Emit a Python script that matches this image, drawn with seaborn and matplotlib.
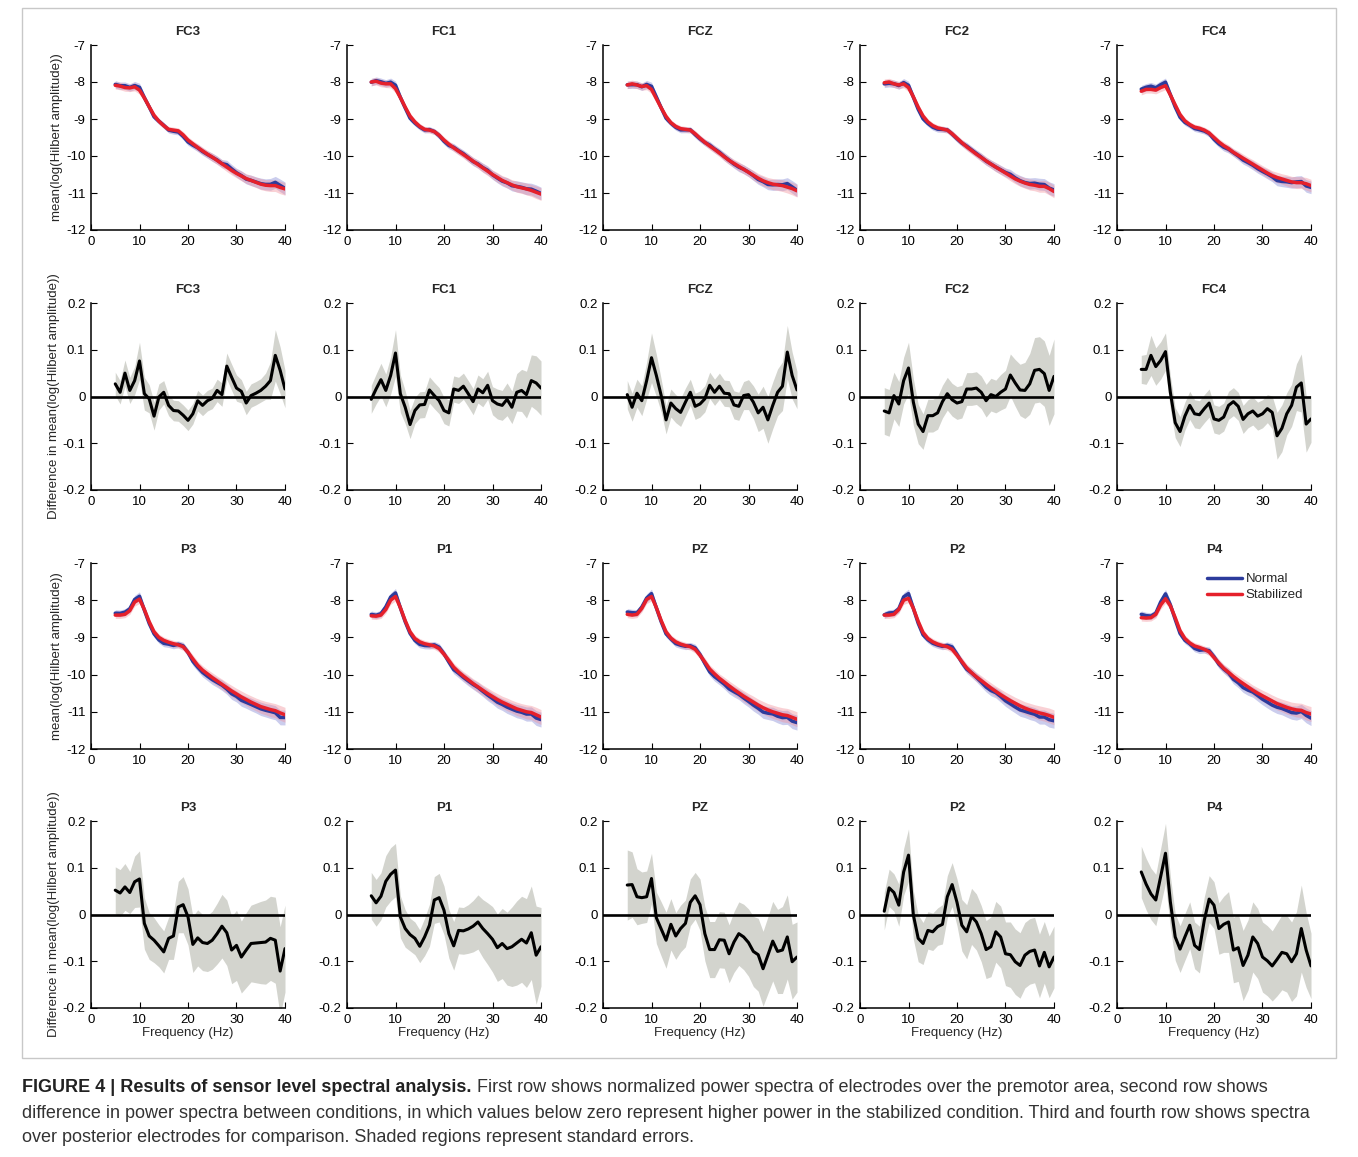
import numpy as np
import pandas as pd
import matplotlib
matplotlib.use("Agg")
import matplotlib.pyplot as plt
import seaborn as sns
from matplotlib.lines import Line2D
from matplotlib.patches import Rectangle

# frequencies (Hz)
freqs = list(range(5, 41))

front = ["FC3", "FC1", "FCZ", "FC2", "FC4"]
back = ["P3", "P1", "PZ", "P2", "P4"]

# stabilized condition, mean(log(Hilbert amplitude))
stab = {
    "FC3": [-8.09, -8.11, -8.15, -8.16, -8.13, -8.22, -8.43, -8.67, -8.90, -9.06, -9.18, -9.28, -9.30, -9.32, -9.43, -9.57, -9.67, -9.77, -9.86, -9.95, -10.03, -10.12, -10.21, -10.30, -10.39, -10.47, -10.54, -10.61, -10.66, -10.71, -10.76, -10.79, -10.80, -10.80, -10.85, -10.89],
    "FC1": [-8.00, -7.98, -8.03, -8.05, -8.05, -8.18, -8.42, -8.68, -8.92, -9.08, -9.20, -9.28, -9.30, -9.34, -9.44, -9.57, -9.68, -9.78, -9.87, -9.96, -10.05, -10.14, -10.23, -10.32, -10.41, -10.50, -10.58, -10.66, -10.72, -10.78, -10.83, -10.86, -10.89, -10.93, -10.98, -11.03],
    "FCZ": [-8.08, -8.05, -8.08, -8.12, -8.10, -8.20, -8.45, -8.70, -8.93, -9.10, -9.20, -9.26, -9.28, -9.30, -9.40, -9.52, -9.63, -9.73, -9.82, -9.92, -10.02, -10.12, -10.20, -10.28, -10.36, -10.44, -10.52, -10.60, -10.67, -10.72, -10.76, -10.78, -10.80, -10.84, -10.88, -10.94],
    "FC2": [-8.02, -8.00, -8.05, -8.08, -8.05, -8.15, -8.40, -8.68, -8.92, -9.08, -9.18, -9.24, -9.27, -9.30, -9.40, -9.52, -9.64, -9.75, -9.85, -9.95, -10.04, -10.13, -10.22, -10.30, -10.38, -10.46, -10.54, -10.62, -10.68, -10.73, -10.77, -10.79, -10.82, -10.82, -10.88, -10.96],
    "FC4": [-8.25, -8.20, -8.20, -8.22, -8.15, -8.10, -8.35, -8.62, -8.88, -9.05, -9.15, -9.22, -9.25, -9.30, -9.38, -9.50, -9.62, -9.72, -9.80, -9.90, -9.98, -10.06, -10.14, -10.22, -10.30, -10.38, -10.46, -10.53, -10.58, -10.62, -10.66, -10.70, -10.72, -10.72, -10.75, -10.80],
    "P3": [-8.40, -8.40, -8.38, -8.28, -8.05, -7.97, -8.25, -8.58, -8.85, -9.00, -9.08, -9.13, -9.17, -9.20, -9.25, -9.40, -9.58, -9.75, -9.88, -9.98, -10.08, -10.17, -10.26, -10.35, -10.44, -10.52, -10.60, -10.67, -10.74, -10.80, -10.86, -10.90, -10.94, -10.97, -11.03, -11.08],
    "P1": [-8.42, -8.43, -8.40, -8.25, -8.00, -7.90, -8.20, -8.55, -8.85, -9.03, -9.12, -9.17, -9.20, -9.23, -9.30, -9.45, -9.62, -9.80, -9.93, -10.04, -10.14, -10.24, -10.33, -10.42, -10.51, -10.59, -10.67, -10.74, -10.80, -10.86, -10.92, -10.96, -11.00, -11.02, -11.08, -11.14],
    "PZ": [-8.38, -8.40, -8.38, -8.22, -7.98, -7.90, -8.20, -8.55, -8.85, -9.02, -9.12, -9.18, -9.22, -9.25, -9.32, -9.48, -9.66, -9.85, -9.98, -10.10, -10.20, -10.30, -10.40, -10.49, -10.58, -10.66, -10.74, -10.82, -10.89, -10.95, -11.00, -11.04, -11.08, -11.10, -11.15, -11.20],
    "P2": [-8.40, -8.40, -8.38, -8.25, -8.00, -7.95, -8.22, -8.57, -8.87, -9.03, -9.12, -9.18, -9.22, -9.25, -9.32, -9.48, -9.65, -9.82, -9.95, -10.06, -10.16, -10.26, -10.36, -10.45, -10.54, -10.62, -10.70, -10.77, -10.84, -10.90, -10.95, -10.99, -11.03, -11.06, -11.10, -11.15],
    "P4": [-8.47, -8.48, -8.47, -8.38, -8.13, -7.96, -8.15, -8.47, -8.82, -9.03, -9.15, -9.23, -9.27, -9.32, -9.39, -9.54, -9.69, -9.83, -9.94, -10.05, -10.15, -10.24, -10.33, -10.42, -10.50, -10.57, -10.64, -10.71, -10.78, -10.83, -10.88, -10.92, -10.95, -10.96, -11.02, -11.06],
}

# normal minus stabilized
diff = {
    "FC3": [0.027, 0.009, 0.050, 0.013, 0.034, 0.076, 0.006, -0.005, -0.042, -0.001, 0.009, -0.019, -0.030, -0.031, -0.040, -0.051, -0.037, -0.009, -0.019, -0.009, -0.004, 0.013, 0.004, 0.065, 0.041, 0.018, 0.011, -0.014, 0.002, 0.007, 0.013, 0.022, 0.034, 0.088, 0.056, 0.016],
    "FC1": [-0.006, 0.016, 0.036, 0.013, 0.045, 0.093, 0.006, -0.023, -0.060, -0.030, -0.018, -0.017, 0.014, 0.002, -0.009, -0.030, -0.035, 0.016, 0.013, 0.022, 0.006, -0.011, 0.016, 0.008, 0.024, -0.009, -0.016, -0.019, -0.006, -0.023, 0.009, 0.013, 0.004, 0.034, 0.029, 0.018],
    "FCZ": [0.004, -0.023, 0.007, -0.009, 0.034, 0.083, 0.045, 0.002, -0.050, -0.014, -0.026, -0.034, -0.012, 0.009, -0.021, -0.016, -0.005, 0.024, 0.009, 0.022, 0.007, 0.006, -0.018, -0.021, 0.002, 0.004, -0.012, -0.035, -0.023, -0.050, -0.019, 0.009, 0.022, 0.095, 0.045, 0.014],
    "FC2": [-0.031, -0.035, 0.002, -0.016, 0.034, 0.061, -0.012, -0.059, -0.075, -0.041, -0.041, -0.035, -0.011, 0.006, -0.007, -0.014, -0.011, 0.016, 0.016, 0.018, 0.009, -0.009, 0.004, 0.000, 0.009, 0.016, 0.046, 0.029, 0.014, 0.013, 0.027, 0.056, 0.058, 0.049, 0.013, 0.043],
    "FC4": [0.058, 0.058, 0.088, 0.064, 0.077, 0.096, 0.009, -0.056, -0.075, -0.042, -0.019, -0.037, -0.039, -0.026, -0.014, -0.048, -0.051, -0.044, -0.019, -0.011, -0.021, -0.049, -0.037, -0.031, -0.042, -0.037, -0.026, -0.034, -0.084, -0.068, -0.037, -0.019, 0.020, 0.029, -0.059, -0.048],
    "P3": [0.052, 0.046, 0.059, 0.047, 0.070, 0.076, -0.019, -0.046, -0.055, -0.067, -0.080, -0.051, -0.046, 0.016, 0.021, -0.005, -0.064, -0.050, -0.060, -0.062, -0.055, -0.041, -0.025, -0.039, -0.076, -0.066, -0.091, -0.076, -0.062, -0.061, -0.060, -0.059, -0.051, -0.055, -0.121, -0.073],
    "P1": [0.040, 0.025, 0.039, 0.071, 0.086, 0.095, -0.005, -0.030, -0.043, -0.051, -0.068, -0.048, -0.023, 0.031, 0.036, 0.009, -0.041, -0.067, -0.034, -0.035, -0.031, -0.025, -0.016, -0.030, -0.041, -0.053, -0.071, -0.062, -0.073, -0.069, -0.061, -0.053, -0.061, -0.039, -0.087, -0.069],
    "PZ": [0.063, 0.064, 0.038, 0.036, 0.038, 0.077, -0.007, -0.031, -0.055, -0.021, -0.046, -0.030, -0.019, 0.026, 0.040, 0.021, -0.041, -0.075, -0.075, -0.054, -0.055, -0.084, -0.059, -0.041, -0.048, -0.060, -0.079, -0.086, -0.116, -0.087, -0.057, -0.079, -0.076, -0.048, -0.101, -0.091],
    "P2": [0.007, 0.057, 0.047, 0.020, 0.091, 0.127, -0.001, -0.051, -0.062, -0.034, -0.037, -0.026, -0.021, 0.038, 0.064, 0.026, -0.023, -0.037, -0.004, -0.016, -0.041, -0.075, -0.069, -0.037, -0.048, -0.084, -0.086, -0.101, -0.109, -0.087, -0.079, -0.076, -0.110, -0.081, -0.112, -0.091],
    "P4": [0.091, 0.065, 0.044, 0.031, 0.081, 0.131, 0.027, -0.048, -0.074, -0.048, -0.023, -0.066, -0.075, -0.012, 0.033, 0.020, -0.030, -0.021, -0.016, -0.076, -0.071, -0.109, -0.087, -0.048, -0.062, -0.091, -0.099, -0.110, -0.096, -0.081, -0.084, -0.101, -0.084, -0.030, -0.076, -0.110],
}

# standard errors of the difference
diff_se = {
    "FC3": [0.025, 0.025, 0.028, 0.028, 0.030, 0.040, 0.035, 0.030, 0.030, 0.028, 0.025, 0.022, 0.022, 0.022, 0.022, 0.022, 0.022, 0.022, 0.022, 0.022, 0.022, 0.024, 0.025, 0.028, 0.028, 0.028, 0.025, 0.025, 0.025, 0.025, 0.025, 0.028, 0.040, 0.055, 0.050, 0.040],
    "FC1": [0.030, 0.032, 0.035, 0.035, 0.040, 0.050, 0.040, 0.035, 0.030, 0.028, 0.028, 0.028, 0.028, 0.028, 0.028, 0.028, 0.028, 0.028, 0.028, 0.028, 0.028, 0.028, 0.030, 0.030, 0.030, 0.030, 0.032, 0.032, 0.035, 0.035, 0.040, 0.045, 0.050, 0.055, 0.058, 0.058],
    "FCZ": [0.030, 0.030, 0.030, 0.032, 0.040, 0.053, 0.045, 0.035, 0.030, 0.030, 0.030, 0.030, 0.030, 0.028, 0.028, 0.028, 0.028, 0.028, 0.028, 0.028, 0.028, 0.028, 0.030, 0.030, 0.030, 0.032, 0.035, 0.040, 0.045, 0.050, 0.050, 0.050, 0.052, 0.057, 0.050, 0.040],
    "FC2": [0.050, 0.050, 0.050, 0.048, 0.050, 0.055, 0.050, 0.042, 0.038, 0.035, 0.035, 0.035, 0.035, 0.035, 0.035, 0.035, 0.035, 0.035, 0.035, 0.035, 0.035, 0.035, 0.035, 0.035, 0.038, 0.040, 0.045, 0.050, 0.055, 0.060, 0.065, 0.070, 0.070, 0.070, 0.075, 0.080],
    "FC4": [0.030, 0.032, 0.043, 0.040, 0.040, 0.040, 0.035, 0.032, 0.032, 0.030, 0.030, 0.030, 0.030, 0.030, 0.030, 0.030, 0.030, 0.030, 0.030, 0.030, 0.030, 0.030, 0.030, 0.030, 0.030, 0.030, 0.030, 0.035, 0.050, 0.050, 0.045, 0.045, 0.050, 0.062, 0.060, 0.050],
    "P3": [0.050, 0.050, 0.050, 0.045, 0.055, 0.060, 0.055, 0.050, 0.048, 0.045, 0.045, 0.045, 0.050, 0.055, 0.060, 0.060, 0.060, 0.060, 0.060, 0.060, 0.062, 0.065, 0.068, 0.070, 0.072, 0.075, 0.077, 0.080, 0.082, 0.085, 0.088, 0.090, 0.090, 0.092, 0.095, 0.093],
    "P1": [0.050, 0.050, 0.050, 0.055, 0.057, 0.057, 0.045, 0.040, 0.035, 0.035, 0.035, 0.040, 0.045, 0.050, 0.052, 0.052, 0.052, 0.052, 0.050, 0.050, 0.052, 0.055, 0.058, 0.062, 0.066, 0.070, 0.072, 0.075, 0.078, 0.085, 0.090, 0.092, 0.095, 0.100, 0.105, 0.084],
    "PZ": [0.075, 0.070, 0.060, 0.055, 0.055, 0.054, 0.055, 0.058, 0.060, 0.055, 0.050, 0.050, 0.050, 0.050, 0.050, 0.055, 0.058, 0.060, 0.060, 0.060, 0.060, 0.062, 0.065, 0.068, 0.070, 0.072, 0.075, 0.078, 0.080, 0.082, 0.085, 0.090, 0.093, 0.090, 0.080, 0.075],
    "P2": [0.040, 0.040, 0.040, 0.045, 0.050, 0.056, 0.052, 0.050, 0.045, 0.040, 0.040, 0.040, 0.042, 0.045, 0.047, 0.050, 0.055, 0.058, 0.060, 0.060, 0.060, 0.062, 0.064, 0.065, 0.066, 0.068, 0.070, 0.070, 0.070, 0.070, 0.070, 0.070, 0.068, 0.066, 0.066, 0.066],
    "P4": [0.055, 0.055, 0.055, 0.055, 0.060, 0.064, 0.055, 0.050, 0.050, 0.050, 0.050, 0.050, 0.050, 0.050, 0.050, 0.050, 0.055, 0.060, 0.065, 0.070, 0.072, 0.075, 0.075, 0.075, 0.075, 0.075, 0.075, 0.075, 0.078, 0.080, 0.082, 0.085, 0.090, 0.093, 0.080, 0.070],
}

# standard errors of the spectra
spec_se_front = [0.10, 0.10, 0.10, 0.10, 0.11, 0.11, 0.10, 0.09, 0.08, 0.08, 0.08, 0.08, 0.08, 0.08, 0.09, 0.09, 0.09, 0.10, 0.10, 0.10, 0.11, 0.11, 0.11, 0.12, 0.12, 0.12, 0.13, 0.13, 0.14, 0.14, 0.15, 0.15, 0.16, 0.16, 0.17, 0.17]
spec_se_back = [0.09, 0.09, 0.09, 0.10, 0.11, 0.12, 0.11, 0.10, 0.09, 0.09, 0.09, 0.09, 0.09, 0.09, 0.10, 0.10, 0.11, 0.11, 0.12, 0.12, 0.13, 0.13, 0.14, 0.14, 0.15, 0.15, 0.16, 0.16, 0.17, 0.17, 0.18, 0.18, 0.19, 0.19, 0.20, 0.20]

spec_yticks = [-12, -11, -10, -9, -8, -7]
diff_yticks = [-0.2, -0.1, 0, 0.1, 0.2]
diff_yticklabels = ["-0.2", "-0.1", "0", "0.1", "0.2"]
xticks = [0, 10, 20, 30, 40]

sns.set_style("ticks")
plt.rcParams["font.family"] = ["Liberation Sans", "DejaVu Sans"]
plt.rcParams["axes.unicode_minus"] = False

BLUE = "#2c3b9c"
RED = "#e5202b"
W, H = 1358, 1157
fig = plt.figure(figsize=(W / 100, H / 100), dpi=100)

lefts = [91, 347, 603, 860, 1117]
axw = 194


def make_ax(x0, top, bottom):
    return fig.add_axes([x0 / W, 1 - bottom / H, axw / W, (bottom - top) / H])


def style_ax(ax):
    sns.despine(ax=ax)
    ax.set_xlim(0, 40)
    ax.set_xticks(xticks)
    ax.tick_params(direction="in", length=4, width=0.8, labelsize=9.5, pad=4, colors="black")
    for s in ["left", "bottom"]:
        ax.spines[s].set_linewidth(1.1)
        ax.spines[s].set_color("black")
    ax.set_xlabel("")
    ax.set_ylabel("")


def spectra_panel(ax, ch, se):
    s = np.array(stab[ch])
    n = s + np.array(diff[ch])
    se = np.array(se)
    ax.fill_between(freqs, n - se, n + se, color="#7d82d2", alpha=0.4, lw=0)
    ax.fill_between(freqs, s - se, s + se, color="#f28c98", alpha=0.4, lw=0)
    df = pd.DataFrame({
        "freq": freqs * 2,
        "value": list(n) + list(s),
        "cond": ["Normal"] * len(freqs) + ["Stabilized"] * len(freqs),
    })
    sns.lineplot(data=df, x="freq", y="value", hue="cond",
                 palette={"Normal": BLUE, "Stabilized": RED},
                 lw=2.5, ax=ax, legend=False)
    style_ax(ax)
    ax.set_ylim(-12, -7)
    ax.set_yticks(spec_yticks)
    ax.set_title(ch, fontsize=9.5, fontweight="bold", pad=7)


def diff_panel(ax, ch):
    d = np.array(diff[ch])
    e = np.array(diff_se[ch])
    ax.fill_between(freqs, d - e, d + e, color="#d3d4ce", lw=0)
    ax.axhline(0, color="black", lw=1.9)
    sns.lineplot(x=freqs, y=d, color="black", lw=2.2, ax=ax)
    style_ax(ax)
    ax.set_ylim(-0.2, 0.2)
    ax.set_yticks(diff_yticks)
    ax.set_yticklabels(diff_yticklabels)
    ax.set_title(ch, fontsize=9.5, fontweight="bold", pad=7)


rows = [(front, "spec", 45, 230), (front, "diff", 303, 490),
        (back, "spec", 563, 749), (back, "diff", 821, 1008)]

for r, (chs, kind, top, bottom) in enumerate(rows):
    for c, ch in enumerate(chs):
        ax = make_ax(lefts[c], top, bottom)
        if kind == "spec":
            spectra_panel(ax, ch, spec_se_front if r == 0 else spec_se_back)
            if c == 0:
                ax.set_ylabel("mean(log(Hilbert amplitude))", fontsize=9.5, labelpad=2)
            if r == 2 and c == 4:
                handles = [Line2D([], [], color=BLUE, lw=2.5),
                           Line2D([], [], color=RED, lw=2.5)]
                ax.legend(handles, ["Normal", "Stabilized"], loc="upper right",
                          bbox_to_anchor=(1.02, 1.01), frameon=False, fontsize=9.5,
                          handlelength=2.6, handletextpad=0.3, labelspacing=0.3)
        else:
            diff_panel(ax, ch)
            if c == 0:
                ax.set_ylabel("Difference in mean(log(Hilbert amplitude))", fontsize=9.5, labelpad=2)
            if r == 3:
                ax.set_xlabel("Frequency (Hz)", fontsize=9.5, labelpad=1)

# frame around the figure panel
fig.patches.append(Rectangle((22 / W, 1 - 1058 / H), (1336 - 22) / W, (1058 - 8) / H,
                             transform=fig.transFigure, fill=False,
                             edgecolor="#c8c8c8", lw=1.0))

# caption
cap_x = 22 / W
fs = 13
bold = fig.text(cap_x, 1 - 1088 / H, "FIGURE 4 | Results of sensor level spectral analysis.",
                fontsize=fs, fontweight="bold", color="#222222", va="center")
fig.canvas.draw()
bb = bold.get_window_extent(renderer=fig.canvas.get_renderer())
fig.text(bb.x1 / W, 1 - 1088 / H,
         " First row shows normalized power spectra of electrodes over the premotor area, second row shows",
         fontsize=fs, color="#333333", va="center")
fig.text(cap_x, 1 - 1113 / H,
         "difference in power spectra between conditions, in which values below zero represent higher power in the stabilized condition. Third and fourth row shows spectra",
         fontsize=fs, color="#333333", va="center")
fig.text(cap_x, 1 - 1138 / H,
         "over posterior electrodes for comparison. Shaded regions represent standard errors.",
         fontsize=fs, color="#333333", va="center")

fig.savefig("out.png", dpi=100)
